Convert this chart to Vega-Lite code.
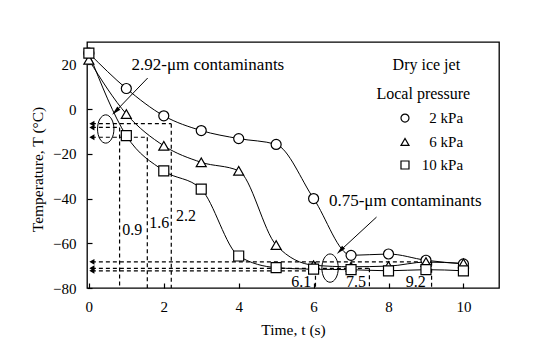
{
"$schema":"https://vega.github.io/schema/vega-lite/v6.json",
"width":412,"height":246,
"autosize":{"type":"none"},
"padding":{"left":87,"top":42,"right":55,"bottom":72},
"background":"white",
"config":{
 "font":"Liberation Serif",
 "view":{"stroke":"black","strokeWidth":1.3},
 "axis":{"grid":false,"domain":false,"ticks":true,"tickColor":"black","tickSize":5,"offset":-5,"tickWidth":1.2,"labelPadding":11,"labelFont":"Liberation Serif","labelFontSize":15,"labelColor":"black","titleFont":"Liberation Serif","titleFontSize":15.5,"titleFontWeight":"normal","titleColor":"black"},
 "text":{"font":"Liberation Serif","fontSize":16,"color":"black"}
},
"datasets":{
 "series":[
  {"p":"2 kPa","t":0,"T":25},{"p":"2 kPa","t":1,"T":9.2},{"p":"2 kPa","t":2,"T":-3},{"p":"2 kPa","t":3,"T":-9.6},{"p":"2 kPa","t":4,"T":-13.2},{"p":"2 kPa","t":5,"T":-15.8},{"p":"2 kPa","t":6,"T":-40},{"p":"2 kPa","t":7,"T":-65.4},{"p":"2 kPa","t":8,"T":-64.8},{"p":"2 kPa","t":9,"T":-67.6},{"p":"2 kPa","t":10,"T":-69.2},
  {"p":"6 kPa","t":0,"T":22},{"p":"6 kPa","t":1,"T":-2.2},{"p":"6 kPa","t":2,"T":-16.4},{"p":"6 kPa","t":3,"T":-23.8},{"p":"6 kPa","t":4,"T":-27.6},{"p":"6 kPa","t":5,"T":-60.8},{"p":"6 kPa","t":6,"T":-69.8},{"p":"6 kPa","t":7,"T":-70.5},{"p":"6 kPa","t":8,"T":-70.2},{"p":"6 kPa","t":9,"T":-68.4},{"p":"6 kPa","t":10,"T":-69},
  {"p":"10 kPa","t":0,"T":25},{"p":"10 kPa","t":1,"T":-11.9},{"p":"10 kPa","t":2,"T":-27.6},{"p":"10 kPa","t":3,"T":-35.8},{"p":"10 kPa","t":4,"T":-65.7},{"p":"10 kPa","t":5,"T":-70.9},{"p":"10 kPa","t":6,"T":-71.6},{"p":"10 kPa","t":7,"T":-71.8},{"p":"10 kPa","t":8,"T":-72.3},{"p":"10 kPa","t":9,"T":-71.8},{"p":"10 kPa","t":10,"T":-72.3}
 ],
 "key":[
  {"p":"2 kPa","t":8.44,"tl":9.99,"T":-4.0},{"p":"6 kPa","t":8.44,"tl":9.99,"T":-14.7},{"p":"10 kPa","t":8.44,"tl":9.99,"T":-25.0}
 ],
 "hdash":[
  {"T":-6.5,"t1":0.08,"t2":2.2},{"T":-8.2,"t1":0.08,"t2":0.82},{"T":-12.6,"t1":0.08,"t2":1.56},
  {"T":-68.3,"t1":0.08,"t2":9.15},{"T":-71.2,"t1":0.08,"t2":7.49},{"T":-72.3,"t1":0.08,"t2":6.05}
 ],
 "vdash":[
  {"t":0.82,"T1":-8.2,"T2":-80},{"t":1.56,"T1":-12.6,"T2":-80},{"t":2.2,"T1":-6.5,"T2":-80},
  {"t":6.05,"T1":-68.3,"T2":-80},{"t":7.49,"T1":-71.2,"T2":-80},{"t":9.15,"T1":-68.3,"T2":-80}
 ],
 "ticklabels":[
  {"t":1.16,"T":-54,"text":"0.9"},{"t":1.88,"T":-51,"text":"1.6"},{"t":2.59,"T":-47.7,"text":"2.2"},
  {"t":5.67,"T":-77.2,"text":"6.1"},{"t":7.13,"T":-77.2,"text":"7.5"},{"t":8.73,"T":-77.2,"text":"9.2"}
 ],
 "notes":[
  {"t":1.14,"T":19.6,"text":"2.92-μm contaminants"},{"t":6.41,"T":-41,"text":"0.75-μm contaminants"}
 ],
 "heads":[
  {"t":9.01,"T":19.7,"text":"Dry ice jet"},{"t":8.93,"T":6.7,"text":"Local pressure"}
 ],
 "arrows":[
  {"t1":1.57,"T1":13.9,"t2":0.71,"T2":-1.07},{"t1":7.68,"T1":-48.3,"t2":6.71,"T2":-63.3}
 ],
 "loops":[{"t":0.45,"T":-8.9},{"t":6.44,"T":-71.1}]
},
"layer":[
 {"data":{"name":"series"},
  "mark":{"type":"line","interpolate":"monotone","color":"black","strokeWidth":1},
  "encoding":{
   "x":{"field":"t","type":"quantitative","scale":{"domain":[-0.05,10.95],"nice":false,"zero":false},"axis":{"values":[0,2,4,6,8,10],"title":"Time, t (s)","titlePadding":8}},
   "y":{"field":"T","type":"quantitative","scale":{"domain":[-80,30],"nice":false,"zero":false},"axis":{"values":[20,0,-20,-40,-60,-80],"title":"Temperature, T (°C)","titlePadding":7,"titleY":127}},
   "detail":{"field":"p","type":"nominal"}}},
 {"data":{"name":"hdash"},
  "mark":{"type":"rule","color":"black","strokeWidth":1.2,"strokeDash":[4,3]},
  "encoding":{"x":{"field":"t1","type":"quantitative"},"x2":{"field":"t2"},"y":{"field":"T","type":"quantitative"}}},
 {"data":{"name":"vdash"},
  "mark":{"type":"rule","color":"black","strokeWidth":1.2,"strokeDash":[4,3]},
  "encoding":{"x":{"field":"t","type":"quantitative"},"y":{"field":"T1","type":"quantitative"},"y2":{"field":"T2"}}},
 {"data":{"name":"hdash"},
  "mark":{"type":"point","shape":"triangle-left","filled":true,"color":"black","size":35,"opacity":1},
  "encoding":{"x":{"field":"t1","type":"quantitative"},"y":{"field":"T","type":"quantitative"}}},
 {"data":{"name":"series"},
  "mark":{"type":"point","filled":true,"fill":"white","stroke":"black","strokeWidth":1.2,"size":100,"opacity":1},
  "encoding":{
   "x":{"field":"t","type":"quantitative"},
   "y":{"field":"T","type":"quantitative"},
   "shape":{"field":"p","type":"nominal","scale":{"domain":["2 kPa","6 kPa","10 kPa"],"range":["circle","triangle-up","square"]},"legend":null}}},
 {"data":{"name":"key"},
  "mark":{"type":"point","filled":true,"fill":"white","stroke":"black","strokeWidth":1.2,"size":64,"opacity":1},
  "encoding":{
   "x":{"field":"t","type":"quantitative"},
   "y":{"field":"T","type":"quantitative"},
   "shape":{"field":"p","type":"nominal","legend":null}}},
 {"data":{"name":"key"},
  "mark":{"type":"text","align":"right","baseline":"middle","fontSize":15},
  "encoding":{"x":{"field":"tl","type":"quantitative"},"y":{"field":"T","type":"quantitative"},"text":{"field":"p"}}},
 {"data":{"name":"ticklabels"},
  "mark":{"type":"text","align":"center","baseline":"middle","fontSize":16},
  "encoding":{"x":{"field":"t","type":"quantitative"},"y":{"field":"T","type":"quantitative"},"text":{"field":"text"}}},
 {"data":{"name":"notes"},
  "mark":{"type":"text","align":"left","baseline":"middle","fontSize":17},
  "encoding":{"x":{"field":"t","type":"quantitative"},"y":{"field":"T","type":"quantitative"},"text":{"field":"text"}}},
 {"data":{"name":"heads"},
  "mark":{"type":"text","align":"center","baseline":"middle","fontSize":16},
  "encoding":{"x":{"field":"t","type":"quantitative"},"y":{"field":"T","type":"quantitative"},"text":{"field":"text"}}},
 {"data":{"name":"arrows"},
  "mark":{"type":"rule","color":"black","strokeWidth":1},
  "encoding":{"x":{"field":"t1","type":"quantitative"},"x2":{"field":"t2"},"y":{"field":"T1","type":"quantitative"},"y2":{"field":"T2"}}},
 {"data":{"name":"arrows"},
  "mark":{"type":"point","shape":"M0,-1L0.45,1L-0.45,1Z","angle":225,"filled":true,"color":"black","size":90,"opacity":1},
  "encoding":{"x":{"field":"t2","type":"quantitative"},"y":{"field":"T2","type":"quantitative"}}},
 {"data":{"name":"loops"},
  "mark":{"type":"point","shape":"M0,-1A0.58,1 0 1,1 0,1A0.58,1 0 1,1 0,-1","filled":false,"color":"black","strokeWidth":1,"size":800,"opacity":1},
  "encoding":{"x":{"field":"t","type":"quantitative"},"y":{"field":"T","type":"quantitative"}}}
]
}
